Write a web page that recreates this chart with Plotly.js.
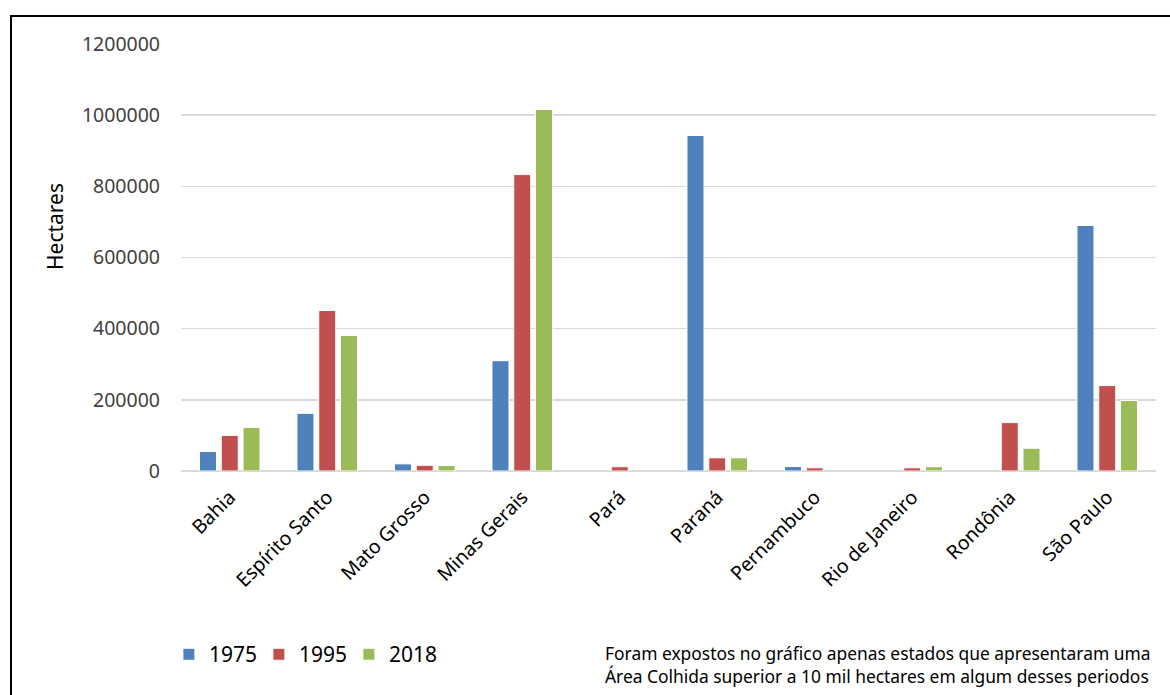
<!DOCTYPE html>
<html>
<head>
<meta charset="utf-8">
<script src="https://cdn.plot.ly/plotly-3.0.1.min.js"></script>
<style>
html,body{margin:0;padding:0;overflow:hidden;background:#fff;}
#wrap{position:relative;width:1170px;height:695px;}
#chart{position:absolute;left:0;top:0;width:1170px;height:695px;}
#frame{position:absolute;left:10px;top:15px;width:1200px;height:720px;border:2px solid #000;pointer-events:none;z-index:5;}
</style>
</head>
<body>
<div id="wrap"><div id="chart"></div><div id="frame"></div></div>
<script>
const states = ["Bahia","Espírito Santo","Mato Grosso","Minas Gerais","Pará","Paraná","Pernambuco","Rio de Janeiro","Rondônia","São Paulo"];
const v1975 = [55000, 162000, 20000, 310000, null, 943000, 12500, null, null, 690000];
const v1995 = [100000, 451000, 16000, 833000, 12000, 37000, 9000, 9000, 136000, 240000];
const v2018 = [122000, 381000, 15500, 1016000, null, 37000, null, 12000, 64000, 198000];
const years = ["1975","1995","2018"];
const colors = ["#4F81BD","#C0504D","#9BBB59"];
const note = "Foram expostos no gráfico apenas estados que apresentaram uma<br>Área Colhida superior a 10 mil hectares em algum desses periodos";

const F = "Noto Sans, sans-serif";
const series = [v1975, v1995, v2018];
const legendIds = ["legend","legend2","legend3"];
const traces = series.map((vals, i) => ({
  type: "bar",
  name: years[i],
  x: states,
  y: vals,
  legend: legendIds[i],
  showlegend: true,
  marker: {color: colors[i], line: {color: "#ffffff", width: 1}},
  hoverinfo: "x+y+name"
}));

function leg(xp) {
  return {
    orientation: "h", x: xp, xanchor: "left", y: -0.43, yanchor: "middle",
    font: {family: F, size: 21, color: "#000000"},
    itemwidth: 30, bgcolor: "rgba(0,0,0,0)", visible: true
  };
}

const layout = {
  width: 1170, height: 695,
  margin: {l: 181, r: 14, t: 44, b: 224},
  paper_bgcolor: "#ffffff", plot_bgcolor: "#ffffff",
  showlegend: true,
  barmode: "group", bargap: 0.33, bargroupgap: 0.22,
  font: {family: F, color: "#404040"},
  xaxis: {
    type: "category",
    tickangle: -45,
    tickfont: {family: F, size: 19.5, color: "#000000"},
    showgrid: false, showline: false, ticks: "",
    ticklabelstandoff: 10,
    automargin: false
  },
  yaxis: {
    range: [0, 1200000], dtick: 200000, tickformat: "d",
    tickfont: {family: F, size: 19.5, color: "#404040"},
    gridcolor: "#d9d9d9", gridwidth: 1.5,
    zeroline: true, zerolinecolor: "#d9d9d9", zerolinewidth: 1.5,
    showline: false, ticks: "", ticklabelstandoff: 20,
    automargin: false
  },
  legend: leg(-0.0124),
  legend2: leg(0.0799),
  legend3: leg(0.1722),
  annotations: [
    {
      text: "Hectares", xref: "paper", yref: "paper",
      x: (55 - 181) / 975, xanchor: "center",
      y: (471 - 227) / 427, yanchor: "middle",
      textangle: -90, showarrow: false,
      font: {family: F, size: 21, color: "#000000"}
    },
    {
      text: note, xref: "paper", yref: "paper",
      x: 0.997, xanchor: "right", y: -0.454, yanchor: "middle",
      align: "left", showarrow: false,
      font: {family: F, size: 17.4, color: "#000000"}
    }
  ]
};

Plotly.newPlot("chart", traces, layout, {displayModeBar: false, staticPlot: true});
</script>
</body>
</html>
